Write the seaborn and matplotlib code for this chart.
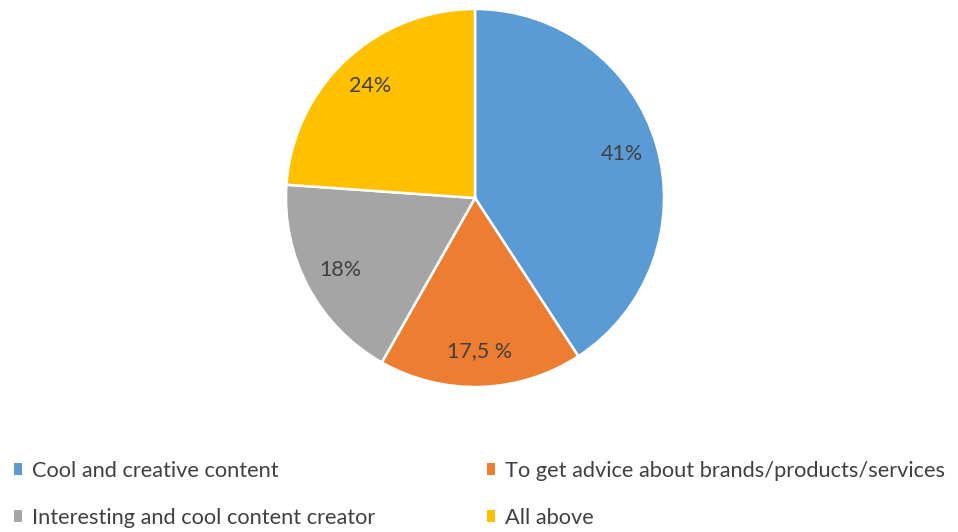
import matplotlib
matplotlib.use("Agg")
import matplotlib.pyplot as plt
from matplotlib.patches import Patch
import seaborn as sns

categories = [
    "Cool and creative content",
    "To get advice about brands/products/services",
    "Interesting and cool content creator",
    "All above",
]
shares = [41, 17.5, 18, 24]
value_labels = ["41%", "17,5 %", "18%", "24%"]
colors = ["#5B9BD5", "#ED7D31", "#A5A5A5", "#FFC000"]

sns.set_theme(style="white")
plt.rcParams["font.family"] = ["Lato", "DejaVu Sans"]

W, H, DPI = 958, 532, 100
fig = plt.figure(figsize=(W / DPI, H / DPI), dpi=DPI)
fig.patch.set_facecolor("white")

cx, cy, r = 475, 198, 189
ax = fig.add_axes([(cx - r) / W, (H - cy - r) / H, 2 * r / W, 2 * r / H])

wedges, texts = ax.pie(
    shares,
    colors=colors,
    startangle=90,
    counterclock=False,
    labels=value_labels,
    labeldistance=0.81,
    wedgeprops=dict(edgecolor="white", linewidth=1.8),
    textprops=dict(color="#404040", fontsize=15.5),
)
for t in texts:
    t.set_horizontalalignment("center")
    t.set_verticalalignment("center")
ax.set_xlim(-1, 1)
ax.set_ylim(-1, 1)
ax.set_aspect("equal")
ax.axis("off")

handles = [Patch(facecolor=c, edgecolor="none") for c in colors]
order = [0, 2, 1, 3]
fig.legend(
    [handles[i] for i in order],
    [categories[i] for i in order],
    ncol=2,
    loc="upper left",
    bbox_to_anchor=(5 / W, 1 - 452 / H),
    borderaxespad=0,
    frameon=False,
    handlelength=0.4,
    handleheight=0.45,
    handletextpad=0.45,
    columnspacing=5.1,
    labelspacing=1.24,
    fontsize=15.7,
    labelcolor="#404040",
)

fig.savefig("out.png", dpi=DPI, facecolor="white")
